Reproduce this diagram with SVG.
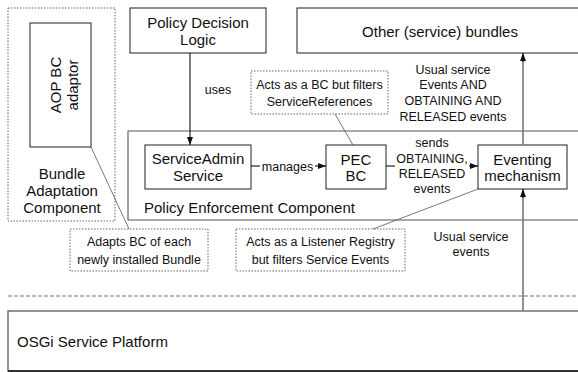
<svg xmlns="http://www.w3.org/2000/svg" width="578" height="372" viewBox="0 0 578 372">
  <defs>
    <marker id="arrow" viewBox="0 0 8 6" refX="8" refY="3" markerWidth="8" markerHeight="6" markerUnits="userSpaceOnUse" orient="auto">
      <path d="M0,0 L8,3 L0,6 Z" fill="#111"/>
    </marker>
    <style>
      text { font-family: "Liberation Sans", Arial, sans-serif; fill: #111; }
      .big { font-size: 15px; }
      .small { font-size: 12.5px; }
      .mid { text-anchor: middle; }
      .box { fill: #fff; stroke: #333; stroke-width: 1.1; }
      .frame { fill: none; stroke: #555; stroke-width: 1.1; }
      .dotted { fill: #fff; stroke: #555; stroke-width: 0.9; stroke-dasharray: 1.5 1.5; }
      .leader { fill: none; stroke: #555; stroke-width: 0.8; }
      .conn { fill: none; stroke: #111; stroke-width: 1.1; }
      .grey { fill: none; stroke: #777; stroke-width: 1.6; }
    </style>
  </defs>

  <!-- platform layer -->
  <g id="osgi-platform">
    <rect x="8" y="311" width="580" height="60" fill="#fff" stroke="#666" stroke-width="1.4"/>
    <line x1="8" y1="371" x2="578" y2="371" stroke="#111" stroke-width="1.4"/>
    <text class="big" x="17" y="347">OSGi Service Platform</text>
  </g>
  <line id="layer-separator" x1="8" y1="296" x2="578" y2="296" stroke="#777" stroke-width="1.2" stroke-dasharray="4 2"/>

  <!-- bundle adaptation component -->
  <g id="bundle-adaptation">
    <rect class="dotted" x="8" y="8" width="107" height="213" fill="none"/>
    <text class="big mid" x="62" y="178.5">Bundle</text>
    <text class="big mid" x="62" y="195.5">Adaptation</text>
    <text class="big mid" x="62" y="212.5">Component</text>
  </g>
  <g id="aop-adaptor">
    <rect class="box" x="30" y="23" width="61" height="124"/>
    <text class="big mid" transform="translate(61,85) rotate(-90)">AOP BC</text>
    <text class="big mid" transform="translate(78,85) rotate(-90)">adaptor</text>
  </g>

  <!-- policy enforcement component -->
  <g id="policy-enforcement">
    <path class="frame" d="M578,131 H128 V220 H578"/>
    <text class="big" x="144" y="213">Policy Enforcement Component</text>
  </g>

  <g id="policy-decision">
    <rect class="box" x="130" y="8" width="136" height="45"/>
    <text class="big mid" x="198" y="28">Policy Decision</text>
    <text class="big mid" x="198" y="45">Logic</text>
  </g>

  <g id="other-bundles">
    <rect class="box" x="297" y="8" width="290" height="45"/>
    <text class="big mid" x="440" y="37">Other (service) bundles</text>
  </g>

  <g id="service-admin">
    <rect class="box" x="145" y="145" width="106" height="44"/>
    <text class="big mid" x="198" y="163.5">ServiceAdmin</text>
    <text class="big mid" x="198" y="181">Service</text>
  </g>

  <g id="pec-bc">
    <rect class="box" x="326" y="145" width="60" height="44"/>
    <text class="big mid" x="356" y="165">PEC</text>
    <text class="big mid" x="356" y="181">BC</text>
  </g>

  <g id="eventing">
    <rect class="box" x="478" y="145" width="89" height="44"/>
    <text class="big mid" x="522.5" y="164.5">Eventing</text>
    <text class="big mid" x="522.5" y="180.5">mechanism</text>
  </g>

  <!-- notes -->
  <g id="note-pec">
    <rect class="dotted" x="251" y="71" width="137" height="43"/>
    <text class="small mid" x="319.5" y="88.5">Acts as a BC but filters</text>
    <text class="small mid" x="319.5" y="106">ServiceReferences</text>
  </g>
  <g id="note-adaptor">
    <rect class="dotted" x="70" y="229" width="138" height="42"/>
    <text class="small mid" x="139" y="246">Adapts BC of each</text>
    <text class="small mid" x="139" y="263.5">newly installed Bundle</text>
  </g>
  <g id="note-listener">
    <rect class="dotted" x="236" y="229" width="169" height="42"/>
    <text class="small mid" x="320.5" y="246">Acts as a Listener Registry</text>
    <text class="small mid" x="320.5" y="263.5">but filters Service Events</text>
  </g>

  <!-- connectors -->
  <g id="connectors">
    <line class="leader" x1="91" y1="147" x2="129" y2="229"/>
    <line class="leader" x1="335" y1="114" x2="353" y2="145"/>
    <line class="leader" x1="373" y1="229" x2="478" y2="189"/>

    <line class="conn" x1="190" y1="53" x2="190" y2="145" marker-end="url(#arrow)"/>
    <text class="small mid" x="218" y="94">uses</text>

    <line class="conn" x1="251" y1="166" x2="260" y2="166"/>
    <line class="conn" x1="315" y1="166" x2="326" y2="166" marker-end="url(#arrow)"/>
    <text class="small mid" x="287.5" y="170.5">manages</text>

    <line class="conn" x1="386" y1="166" x2="395" y2="166"/>
    <line class="conn" x1="469" y1="166" x2="478" y2="166" marker-end="url(#arrow)"/>
    <text class="small mid" x="432" y="147">sends</text>
    <text class="small mid" x="432" y="162.5">OBTAINING,</text>
    <text class="small mid" x="432" y="177.5">RELEASED</text>
    <text class="small mid" x="432" y="192.5">events</text>

    <line class="grey" x1="523" y1="145" x2="523" y2="60"/>
    <line class="conn" x1="523" y1="62" x2="523" y2="53" marker-end="url(#arrow)"/>
    <text class="small mid" x="453" y="73.5">Usual service</text>
    <text class="small mid" x="453" y="89">Events AND</text>
    <text class="small mid" x="453" y="104.5">OBTAINING AND</text>
    <text class="small mid" x="453" y="120.5">RELEASED events</text>

    <line class="grey" x1="523" y1="311" x2="523" y2="196"/>
    <line class="conn" x1="523" y1="198" x2="523" y2="189" marker-end="url(#arrow)"/>
    <text class="small mid" x="471" y="240.5">Usual service</text>
    <text class="small mid" x="471" y="255.5">events</text>
  </g>
</svg>
